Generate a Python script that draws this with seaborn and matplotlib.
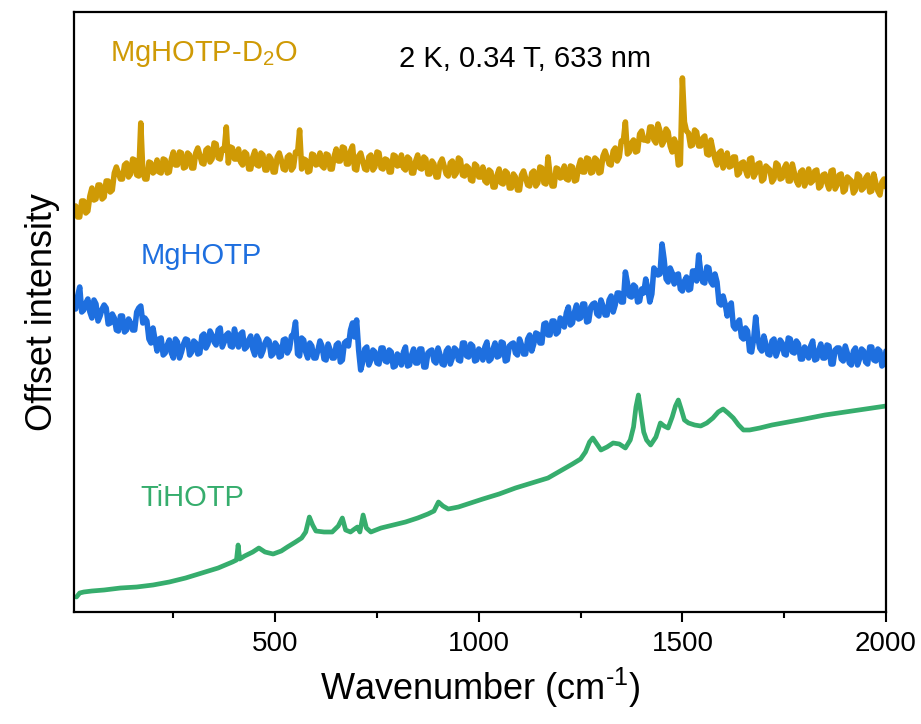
import matplotlib
matplotlib.use("Agg")
import matplotlib.pyplot as plt
from matplotlib.ticker import FixedLocator
import seaborn as sns
import pandas as pd

# ---------------- data (arbitrary offset units) ----------------
wn_noisy = list(range(10, 2001, 10))      # main samples
wn_mid = list(range(15, 2000, 10))        # in-between samples

mg_d2o = [406, 395, 411, 401, 424, 413, 427, 415, 431, 422,
          445, 433, 447, 435, 453, 437, 489, 433, 450, 439,
          452, 439, 452, 440, 460, 447, 459, 445, 457, 444,
          464, 449, 462, 450, 469, 454, 463, 485, 465, 453,
          463, 447, 458, 443, 461, 446, 457, 442, 453, 440,
          459, 443, 455, 442, 460, 482, 453, 440, 458, 447,
          459, 444, 457, 443, 463, 451, 464, 448, 466, 442,
          459, 443, 455, 442, 460, 444, 453, 440, 457, 446,
          457, 442, 453, 439, 457, 443, 453, 438, 448, 435,
          453, 438, 449, 436, 454, 437, 446, 432, 448, 435,
          445, 429, 440, 425, 443, 428, 439, 424, 435, 422,
          441, 427, 439, 426, 445, 429, 455, 426, 444, 434,
          446, 432, 445, 432, 452, 440, 453, 440, 452, 440,
          461, 448, 461, 451, 471, 490, 460, 472, 461, 481,
          472, 485, 472, 488, 467, 483, 466, 473, 447, 534,
          481, 466, 482, 466, 474, 458, 472, 453, 459, 444,
          459, 446, 455, 439, 450, 436, 454, 439, 449, 433,
          444, 430, 449, 433, 444, 431, 448, 431, 440, 426,
          443, 431, 442, 426, 438, 423, 442, 427, 438, 422,
          433, 419, 438, 422, 434, 420, 438, 421, 430, 425]
mg_d2o_mid = [395, 411, 399, 416, 412, 427, 413, 431, 420, 439,
              439, 433, 449, 438, 452, 436, 440, 433, 449, 441,
              440, 453, 439, 453, 447, 460, 444, 459, 444, 459,
              457, 448, 464, 453, 468, 453, 462, 449, 464, 453,
              450, 460, 443, 455, 447, 459, 442, 456, 440, 455,
              452, 442, 457, 445, 459, 443, 452, 441, 457, 448,
              446, 458, 443, 456, 451, 465, 448, 461, 443, 456,
              451, 442, 457, 445, 459, 443, 452, 440, 456, 447,
              444, 455, 439, 451, 444, 455, 438, 451, 435, 449,
              446, 436, 451, 439, 452, 436, 444, 431, 446, 435,
              431, 442, 425, 437, 429, 441, 424, 438, 422, 437,
              434, 426, 441, 429, 444, 428, 437, 426, 443, 435,
              433, 446, 431, 445, 440, 454, 439, 454, 439, 456,
              455, 447, 464, 455, 471, 458, 469, 460, 478, 472,
              471, 485, 469, 481, 471, 480, 460, 468, 448, 490,
              479, 467, 480, 466, 476, 457, 462, 447, 461, 450,
              445, 455, 437, 449, 442, 453, 435, 448, 431, 446,
              442, 433, 447, 434, 448, 431, 439, 427, 442, 433,
              429, 441, 424, 437, 429, 441, 423, 437, 420, 435,
              431, 422, 436, 424, 437, 421, 429, 417, 433]

mg = [303, 325, 302, 313, 294, 308, 296, 307, 288, 298,
      282, 296, 280, 293, 282, 300, 306, 294, 273, 284,
      261, 274, 259, 272, 254, 270, 260, 273, 257, 271,
      258, 276, 264, 281, 270, 282, 265, 277, 266, 283,
      265, 280, 265, 276, 257, 272, 261, 273, 256, 269,
      255, 272, 259, 276, 290, 256, 272, 254, 266, 254,
      271, 253, 268, 254, 267, 250, 269, 266, 289, 292,
      242, 263, 247, 262, 249, 264, 251, 262, 245, 258,
      247, 265, 247, 263, 249, 263, 245, 261, 251, 264,
      248, 261, 248, 264, 252, 269, 256, 268, 251, 263,
      252, 270, 253, 269, 256, 269, 252, 268, 259, 273,
      258, 273, 261, 279, 269, 288, 277, 291, 278, 294,
      285, 305, 289, 307, 294, 308, 291, 308, 298, 312,
      297, 312, 300, 319, 310, 340, 316, 327, 310, 323,
      333, 310, 344, 337, 368, 333, 344, 328, 338, 321,
      335, 323, 341, 357, 330, 345, 330, 338, 309, 316,
      296, 309, 283, 292, 273, 281, 260, 295, 264, 276,
      258, 271, 256, 272, 258, 274, 260, 271, 253, 265,
      254, 271, 253, 268, 254, 266, 248, 264, 253, 266,
      249, 261, 247, 263, 250, 265, 252, 263, 246, 261]
mg_mid = [316, 300, 309, 300, 312, 291, 303, 304, 289, 294,
          281, 296, 282, 289, 282, 304, 289, 291, 269, 272,
          273, 257, 267, 259, 273, 254, 268, 272, 260, 269,
          259, 278, 268, 277, 267, 284, 270, 279, 265, 273,
          278, 263, 272, 263, 276, 256, 269, 271, 258, 266,
          256, 273, 263, 278, 258, 274, 260, 269, 254, 262,
          266, 252, 262, 254, 269, 252, 271, 282, 275, 262,
          250, 265, 252, 260, 248, 264, 250, 260, 246, 255,
          260, 246, 257, 249, 263, 245, 259, 262, 249, 257,
          247, 264, 254, 262, 251, 269, 255, 266, 252, 260,
          265, 251, 263, 255, 270, 251, 266, 269, 257, 267,
          258, 277, 268, 278, 269, 289, 277, 291, 280, 292,
          299, 287, 300, 293, 308, 290, 305, 309, 296, 306,
          297, 316, 307, 319, 310, 329, 315, 325, 311, 319,
          323, 318, 341, 338, 353, 330, 339, 337, 323, 331,
          322, 341, 331, 340, 329, 344, 327, 330, 307, 308,
          306, 286, 289, 275, 284, 261, 273, 275, 261, 268,
          257, 273, 262, 269, 257, 273, 259, 268, 253, 262,
          266, 252, 262, 254, 267, 248, 262, 264, 251, 259,
          247, 264, 253, 261, 248, 265, 251, 261, 248]

wn_ti = [12, 20, 30, 50, 80, 120, 160, 200, 240, 280, 320, 360, 395, 405, 409, 413,
         425, 445, 460, 475, 495, 515, 530, 550, 565, 575, 584, 592, 600, 620, 640,
         655, 665, 673, 685, 695, 702, 708, 716, 724, 735, 760, 790, 820, 850, 875,
         890, 901, 912, 925, 950, 980, 1010, 1050, 1090, 1130, 1170, 1200, 1230,
         1250, 1262, 1272, 1280, 1290, 1300, 1315, 1330, 1345, 1360, 1372, 1380,
         1386, 1392, 1398, 1405, 1412, 1422, 1435, 1446, 1455, 1465, 1475, 1483,
         1490, 1497, 1505, 1515, 1530, 1545, 1560, 1575, 1588, 1600, 1612, 1625,
         1638, 1650, 1665, 1690, 1720, 1760, 1800, 1850, 1900, 1950, 2000]
ti = [15, 19, 20, 21, 22, 24, 25, 27, 30, 34, 39, 44, 50, 52, 67, 53,
      56, 60, 64, 60, 58, 61, 65, 70, 74, 80, 95, 87, 81, 80, 80,
      86, 94, 82, 80, 83, 85, 80, 97, 84, 80, 84, 87, 90, 94, 98,
      101, 110, 106, 103, 105, 109, 113, 118, 124, 129, 134, 141, 148,
      153, 160, 170, 174, 168, 162, 165, 169, 168, 164, 172, 185,
      205, 217, 200, 180, 172, 167, 175, 189, 186, 184, 195, 206,
      212, 203, 192, 189, 187, 186, 189, 194, 200, 203, 199, 194,
      187, 182, 182, 184, 187, 190, 193, 197, 200, 203, 206]

labels = ["MgHOTP-D$_2$O", "MgHOTP", "TiHOTP"]
colors = ["#CF9A05", "#1E6FDF", "#36AD6D"]
x_major = [500, 1000, 1500, 2000]
x_minor = [250, 750, 1250, 1750]

# ---------------- style ----------------
sns.set_style("ticks")
plt.rcParams["font.family"] = ["Liberation Sans", "DejaVu Sans"]
plt.rcParams["mathtext.fontset"] = "custom"
plt.rcParams["mathtext.rm"] = "Liberation Sans"
plt.rcParams["mathtext.it"] = "Liberation Sans:italic"
plt.rcParams["mathtext.bf"] = "Liberation Sans:bold"
plt.rcParams["text.color"] = "black"
plt.rcParams["axes.labelcolor"] = "black"
plt.rcParams["xtick.color"] = "black"
plt.rcParams["ytick.color"] = "black"

fig = plt.figure(figsize=(9.21, 7.24), dpi=100)
ax = fig.add_axes([74 / 921, 1 - 612 / 724, (886 - 74) / 921, 600 / 724])

df_d2o = pd.DataFrame({"wn": wn_noisy + wn_mid, "I": mg_d2o + mg_d2o_mid}).sort_values("wn")
df_mg = pd.DataFrame({"wn": wn_noisy + wn_mid, "I": mg + mg_mid}).sort_values("wn")
df_ti = pd.DataFrame({"wn": wn_ti, "I": ti})

sns.lineplot(data=df_d2o, x="wn", y="I", ax=ax, color=colors[0], linewidth=4.0,
             estimator=None, sort=False)
sns.lineplot(data=df_mg, x="wn", y="I", ax=ax, color=colors[1], linewidth=4.0,
             estimator=None, sort=False)
sns.lineplot(data=df_ti, x="wn", y="I", ax=ax, color=colors[2], linewidth=3.4,
             estimator=None, sort=False)

ax.set_xlim(6, 2000)
ax.set_ylim(0, 600)
ax.xaxis.set_major_locator(FixedLocator(x_major))
ax.xaxis.set_minor_locator(FixedLocator(x_minor))
ax.set_yticks([])
ax.tick_params(axis="x", which="major", direction="out", length=7, width=1.5,
               labelsize=20, pad=7, colors="black")
ax.tick_params(axis="x", which="minor", direction="out", length=4, width=1.5)
for s in ax.spines.values():
    s.set_linewidth(1.6)
    s.set_color("black")
    s.set_visible(True)

ax.set_xlabel(r"Wavenumber (cm$^{\text{-1}}$)", fontsize=26, labelpad=6)
ax.set_ylabel("Offset intensity", fontsize=26, labelpad=10)

def px(xp, yp):
    # convert figure pixel position to axes fraction (text layout only)
    return ((xp - 74) / (886 - 74), (612 - yp) / 600)

ax.text(*px(110, 61), labels[0], color=colors[0], fontsize=21, transform=ax.transAxes,
        ha="left", va="baseline")
ax.text(*px(399, 67), "2 K, 0.34 T, 633 nm", color="black", fontsize=21,
        transform=ax.transAxes, ha="left", va="baseline")
ax.text(*px(141, 264), labels[1], color=colors[1], fontsize=21, transform=ax.transAxes,
        ha="left", va="baseline")
ax.text(*px(140, 506), labels[2], color=colors[2], fontsize=21, transform=ax.transAxes,
        ha="left", va="baseline")

fig.savefig("out.png", dpi=100)
